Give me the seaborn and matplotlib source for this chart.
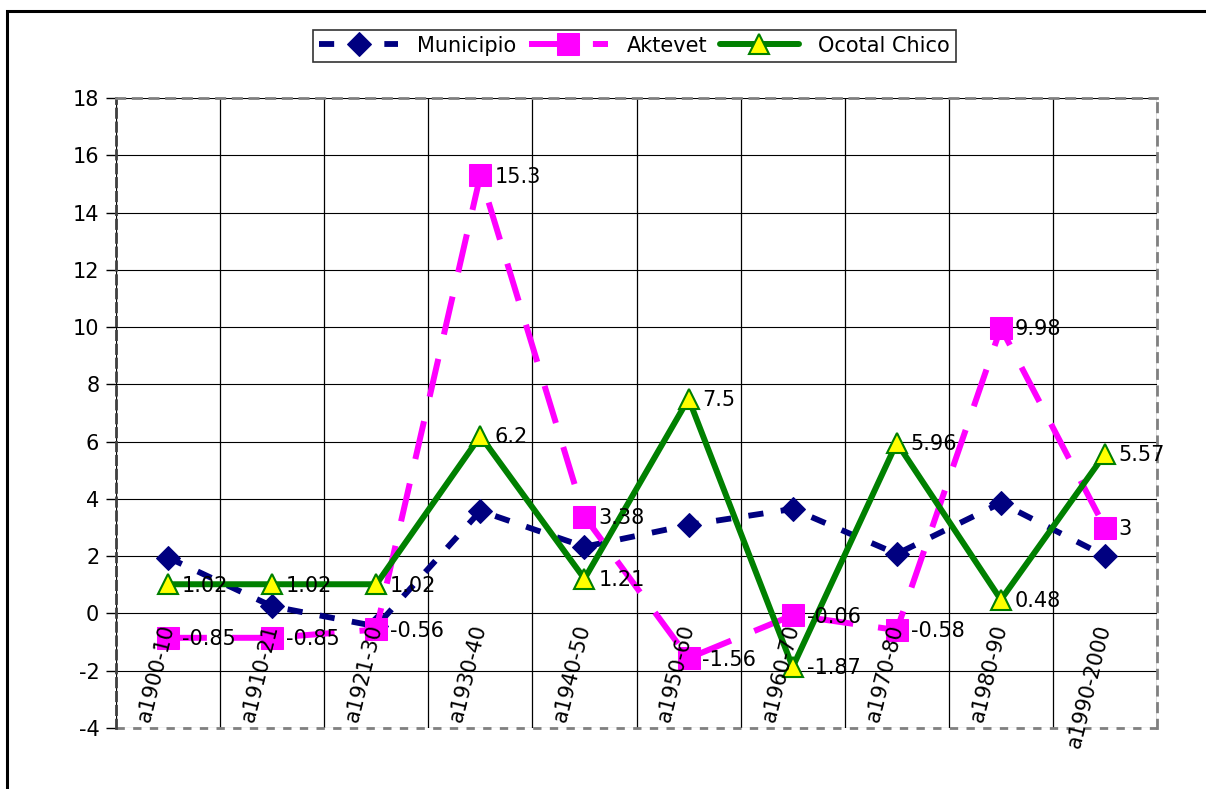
import matplotlib
matplotlib.use('Agg')
import matplotlib.pyplot as plt
from matplotlib.patches import Rectangle
import seaborn as sns
import pandas as pd
import numpy as np

periods = ['a1900-10', 'a1910-21', 'a1921-30', 'a1930-40', 'a1940-50',
           'a1950-60', 'a1960-70', 'a1970-80', 'a1980-90', 'a1990-2000']
municipio = [1.95, 0.25, -0.45, 3.58, 2.33, 3.09, 3.65, 2.08, 3.86, 2.01]
aktevet = [-0.85, -0.85, -0.56, 15.3, 3.38, -1.56, -0.06, -0.58, 9.98, 3]
ocotal = [1.02, 1.02, 1.02, 6.2, 1.21, 7.5, -1.87, 5.96, 0.48, 5.57]
y_ticks = list(range(-4, 19, 2))

df = pd.DataFrame({'periodo': periods, 'Municipio': municipio,
                   'Aktevet': aktevet, 'Ocotal Chico': ocotal})

sns.set_style('white')
plt.rcParams['font.family'] = ['DejaVu Sans']
plt.rcParams['axes.unicode_minus'] = False
plt.rcParams['text.color'] = 'black'
plt.rcParams['xtick.color'] = 'black'
plt.rcParams['ytick.color'] = 'black'
plt.rcParams['xtick.labelcolor'] = 'black'
plt.rcParams['ytick.labelcolor'] = 'black'

fig = plt.figure(figsize=(12.06, 7.89), dpi=100)
ax = fig.add_axes([0.0962, 0.0773, 0.8632, 0.7985])

# outer chart frame
fig.patches.append(Rectangle((7 / 1206, -0.05), 1.1, 1 - 11 / 789 + 0.05,
                             transform=fig.transFigure, fill=False,
                             edgecolor='black', linewidth=2.2, zorder=0))

styles = {
    'Municipio': dict(color='#000080', marker='D', markersize=12, linewidth=4.2,
                      dashes=(2.6, 3.0), markeredgecolor='#000080'),
    'Aktevet': dict(color='#FF00FF', marker='s', markersize=16, linewidth=4.3,
                    dashes=(6.5, 4.2), markeredgecolor='#FF00FF'),
    'Ocotal Chico': dict(color='#008000', marker='^', markersize=15, linewidth=4.3,
                         markerfacecolor='#FFFF00', markeredgecolor='#008000',
                         markeredgewidth=1.5),
}
for i, name in enumerate(['Municipio', 'Aktevet', 'Ocotal Chico']):
    st = dict(styles[name])
    dashes = st.pop('dashes', None)
    sns.lineplot(data=df, x='periodo', y=name, ax=ax, label=name, sort=False,
                 zorder=3 + i, **st)
    if dashes is not None:
        ax.lines[-1].set_dashes(dashes)

# data labels for the two local series
for name in ['Aktevet', 'Ocotal Chico']:
    for i, v in enumerate(df[name]):
        ax.annotate(f'{v:g}', (i, v), xytext=(10, -1), textcoords='offset points',
                    va='center', ha='left', fontsize=15, color='black', zorder=10)

ax.set_xlim(-0.5, len(periods) - 0.5)
ax.set_ylim(-4, 18)
ax.set_yticks(y_ticks)
ax.set_xlabel('')
ax.set_ylabel('')

# gridlines: category boundaries and every 2 units
for xb in np.arange(-0.5, len(periods), 1):
    ax.axvline(xb, color='black', linewidth=0.9, zorder=0.5)
ax.grid(True, which='major', axis='y', color='black', linewidth=0.8)
ax.grid(False, which='major', axis='x')
ax.set_axisbelow(True)

# category axis crosses at zero, labels hang below it and sit above the lines
ax.spines['bottom'].set_position(('data', 0))
ax.spines['bottom'].set_color('none')
ax.xaxis.set_zorder(20)
ax.tick_params(axis='x', which='both', length=0, pad=8, labelsize=15,
               labelcolor='black')
for lbl in ax.get_xticklabels():
    lbl.set_rotation(76)
    lbl.set_rotation_mode('anchor')
    lbl.set_ha('right')
    lbl.set_va('center')

ax.tick_params(axis='y', which='major', length=7, width=1, color='black',
               direction='out', left=True, labelsize=15, pad=5,
               labelcolor='black')
for side in ['top', 'right']:
    ax.spines[side].set_color('#808080')
    ax.spines[side].set_linestyle((0, (3, 3)))
    ax.spines[side].set_linewidth(2)
ax.spines['left'].set_color('#404040')
ax.spines['left'].set_linestyle((0, (3, 2)))
ax.spines['left'].set_linewidth(2)
ax.axhline(-4, color='#808080', linestyle=(0, (3, 3)), linewidth=2, clip_on=False)

handles, labels = ax.get_legend_handles_labels()
ax.get_legend().remove()
leg = fig.legend(handles, labels, loc='center', bbox_to_anchor=(0.526, 0.942),
                 ncol=3, fontsize=15, frameon=True, fancybox=False,
                 edgecolor='black', handlelength=3.8, columnspacing=0.6,
                 handletextpad=0.9, borderpad=0.3)
leg.get_frame().set_linewidth(1.2)
for t in leg.get_texts():
    t.set_color('black')

fig.savefig('out.png', dpi=100)
